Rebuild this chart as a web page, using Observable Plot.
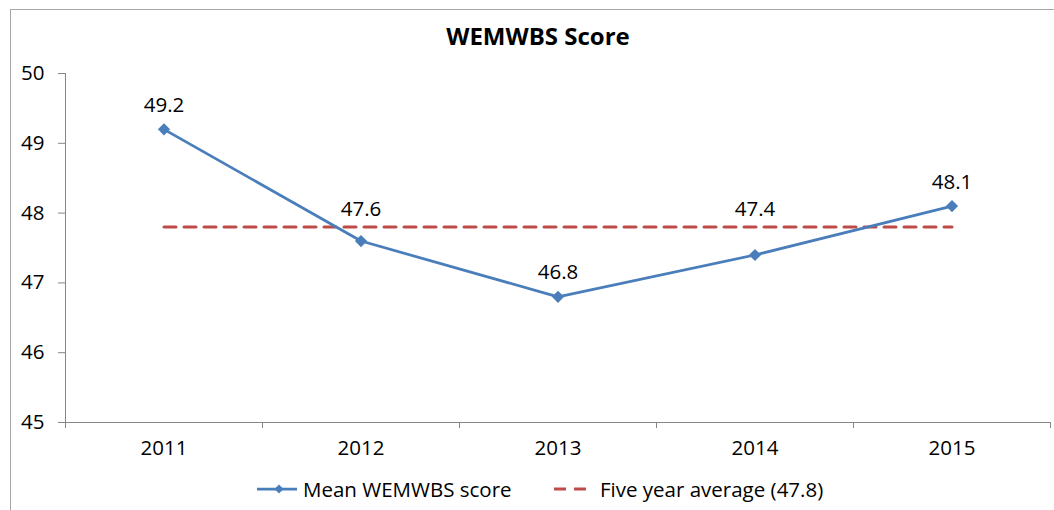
<!DOCTYPE html>
<html>
<head>
<meta charset="utf-8">
<script src="https://cdn.jsdelivr.net/npm/d3@7"></script>
<script src="https://cdn.jsdelivr.net/npm/@observablehq/plot@0.6"></script>
<style>
  html, body { margin: 0; padding: 0; background: #fff; }
  #wrap { position: relative; width: 1054px; height: 510px; overflow: hidden; font-family: "Open Sans", sans-serif; color: #000; }
  #frame { position: absolute; left: 10px; top: 9px; width: 1100px; height: 600px; border-left: 1px solid #a6a6a6; border-top: 1px solid #a6a6a6; box-sizing: border-box; }
  #title { position: absolute; left: 0; top: 20px; width: 1076px; text-align: center; font-weight: bold; font-size: 24px; line-height: 32px; }
  #chart { position: absolute; left: 0; top: 0; }
  .leg { position: absolute; top: 475px; font-size: 20.5px; line-height: 28px; display: flex; align-items: center; white-space: nowrap; }
  .leg svg { margin-right: 4px; }
</style>
</head>
<body>
<div id="wrap">
  <div id="frame"></div>
  <div id="chart"></div>
  <div id="title">WEMWBS Score</div>
  <div class="leg" style="left:257px"><svg width="42" height="12"><line x1="0" y1="6" x2="40" y2="6" stroke="#4a7ebb" stroke-width="2.75"/><path d="M22 1.5 L26.5 6 L22 10.5 L17.5 6 Z" fill="#4a7ebb"/></svg><span>Mean WEMWBS score</span></div>
  <div class="leg" style="left:554px"><svg width="42" height="12"><line x1="0" y1="6" x2="34" y2="6" stroke="#be4b48" stroke-width="3" stroke-dasharray="12,8"/></svg><span>Five year average (47.8)</span></div>
</div>
<script>
const years = [2011, 2012, 2013, 2014, 2015];
const scores = [49.2, 47.6, 46.8, 47.4, 48.1];
const average = 47.8;
const yTicks = [45, 46, 47, 48, 49, 50];
const bandEdges = [2010.5, 2011.5, 2012.5, 2013.5, 2014.5, 2015.5];

const data = years.map((y, i) => ({year: y, score: scores[i]}));
const avgData = years.map(y => ({year: y, avg: average}));

const H = 510, MT = 73, MB = 88;
const pxPerUnit = (H - MT - MB) / (yTicks[yTicks.length - 1] - yTicks[0]);
// label placement: above the point, but lifted above the average line if it would collide with it
const labelY = d => {
  const y = d.score + 24 / pxPerUnit;
  return Math.abs(y - average) < 0.3 ? average + 18 / pxPerUnit : y;
};

const chart = Plot.plot({
  width: 1054,
  height: H,
  marginLeft: 65,
  marginRight: 4,
  marginTop: MT,
  marginBottom: MB,
  style: {fontFamily: "Open Sans, sans-serif", fontSize: "20.5px", color: "#000", background: "transparent", overflow: "visible"},
  x: {domain: [2010.5, 2015.5]},
  y: {domain: [45, 50]},
  marks: [
    Plot.axisY({ticks: yTicks, tickSize: 7, tickPadding: 14, tickFormat: d3.format("d"), stroke: "#868686", strokeOpacity: 1, label: null, fontSize: 20.5}),
    Plot.axisX({ticks: bandEdges, tickSize: 6, tickFormat: () => "", stroke: "#868686", strokeOpacity: 1, label: null}),
    Plot.axisX({ticks: years, tickSize: 0, tickPadding: 18, tickFormat: d3.format("d"), label: null, fontSize: 20.5}),
    Plot.ruleY([45], {stroke: "#868686"}),
    Plot.ruleX([2010.5], {stroke: "#868686"}),
    Plot.line(avgData, {x: "year", y: "avg", stroke: "#be4b48", strokeWidth: 3, strokeDasharray: "12,8"}),
    Plot.line(data, {x: "year", y: "score", stroke: "#4a7ebb", strokeWidth: 2.75}),
    Plot.dot(data, {x: "year", y: "score", symbol: "diamond2", r: 5.5, fill: "#4a7ebb", stroke: null}),
    Plot.text(data, {x: "year", y: labelY, text: d => d.score.toFixed(1), fontSize: 20.5, fill: "#000"})
  ]
});
document.getElementById("chart").appendChild(chart);
</script>
</body>
</html>
